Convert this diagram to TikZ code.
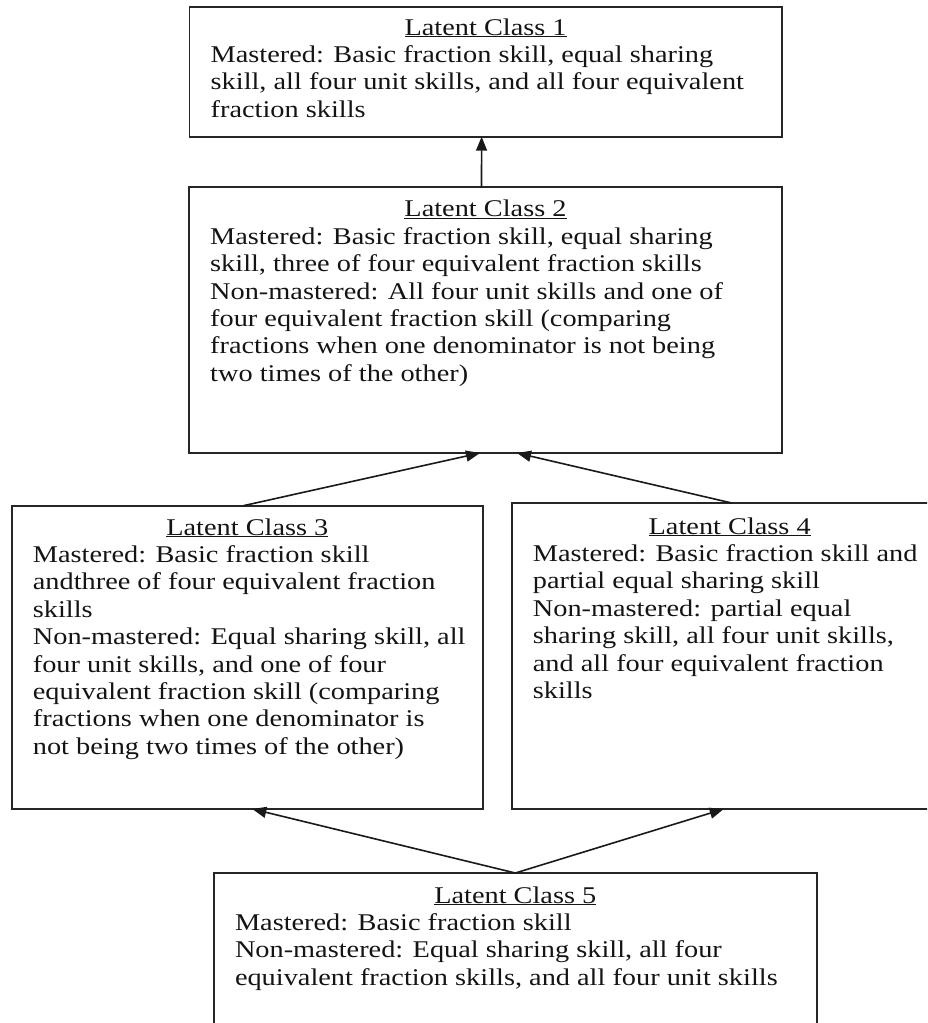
\documentclass[tikz,border=0pt]{standalone}
\usepackage{fontspec}
\setmainfont{Liberation Serif}[FakeStretch=1.18]
\usetikzlibrary{arrows.meta,calc}
\tikzset{
  box/.style={draw=black!85, line width=1.8pt, inner sep=0pt, outer sep=0pt, anchor=north west},
  ttl/.style={inner sep=0pt, anchor=base, text=black!92, font=\fontsize{24}{27.4}\selectfont},
  body/.style={inner sep=0pt, anchor=north west, align=left, text=black!92, font=\fontsize{24}{27.4}\selectfont},
  arr/.style={draw=black!90, line width=1.6pt, -{Triangle[length=14pt,width=11pt]}}
}
\begin{document}
\begin{tikzpicture}[x=1pt,y=-1pt]
\path[use as bounding box] (0,0) rectangle (927,1023);
\clip (0,0) rectangle (927,1023);

% boxes
\node[box, minimum width=592.2pt, minimum height=130pt] (b1) at (189.5,6.7) {};
\node[box, minimum width=593pt, minimum height=266pt] (b2) at (189,187) {};
\node[box, minimum width=471.3pt, minimum height=303.3pt] (b3) at (11.7,505.7) {};
\node[box, minimum width=436pt, minimum height=306pt] (b4) at (511.7,503) {};
\node[box, minimum width=603pt, minimum height=170pt] (b5) at (213.8,873) {};

% titles
\node[ttl] (h1) at ([yshift=-28.3pt]b1.north) {\underline{Latent Class 1}};
\node[ttl] (h2) at ([yshift=-29.7pt]b2.north) {\underline{Latent Class 2}};
\node[ttl] (h3) at ([yshift=-29.3pt]b3.north) {\underline{Latent Class 3}};
\node[ttl] (h4) at ([yshift=-31pt]b4.north) {\underline{Latent Class 4}};
\node[ttl] (h5) at ([yshift=-30pt]b5.north) {\underline{Latent Class 5}};

% bodies
\node[body] (m1) at ([xshift=21pt,yshift=-36.5pt]b1.north west)
  {\strut Mastered: Basic fraction skill, equal sharing\\
   skill, all four unit skills, and all four equivalent\\
   fraction skills};
\node[body] (m2) at ([xshift=21pt,yshift=-37.9pt]b2.north west)
  {\strut Mastered: Basic fraction skill, equal sharing\\
   skill, three of four equivalent fraction skills\\
   Non-mastered: All four unit skills and one of\\
   four equivalent fraction skill (comparing\\
   fractions when one denominator is not being\\
   two times of the other)};
\node[body] (m3) at ([xshift=21pt,yshift=-37.5pt]b3.north west)
  {\strut Mastered: Basic fraction skill\\
   andthree of four equivalent fraction\\
   skills\\
   Non-mastered: Equal sharing skill, all\\
   four unit skills, and one of four\\
   equivalent fraction skill (comparing\\
   fractions when one denominator is\\
   not being two times of the other)};
\node[body] (m4) at ([xshift=21pt,yshift=-39.2pt]b4.north west)
  {\strut Mastered: Basic fraction skill and\\
   partial equal sharing skill\\
   Non-mastered: partial equal\\
   sharing skill, all four unit skills,\\
   and all four equivalent fraction\\
   skills};
\node[body] (m5) at ([xshift=21pt,yshift=-38.2pt]b5.north west)
  {\strut Mastered: Basic fraction skill\\
   Non-mastered: Equal sharing skill, all four\\
   equivalent fraction skills, and all four unit skills};

% connectors
\draw[arr] ([xshift=-4pt]b2.north) -- ([xshift=-4pt]b1.south);
\draw[arr] ([xshift=-4pt]b3.north) -- ([xshift=-5.5pt]b2.south);
\draw[arr] ([xshift=2pt]b4.north) -- ([xshift=31.5pt]b2.south);
\draw[arr] (b5.north) -- ([xshift=5pt]b3.south);
\draw[arr] (b5.north) -- ([xshift=-6pt]b4.south);
\end{tikzpicture}
\end{document}
